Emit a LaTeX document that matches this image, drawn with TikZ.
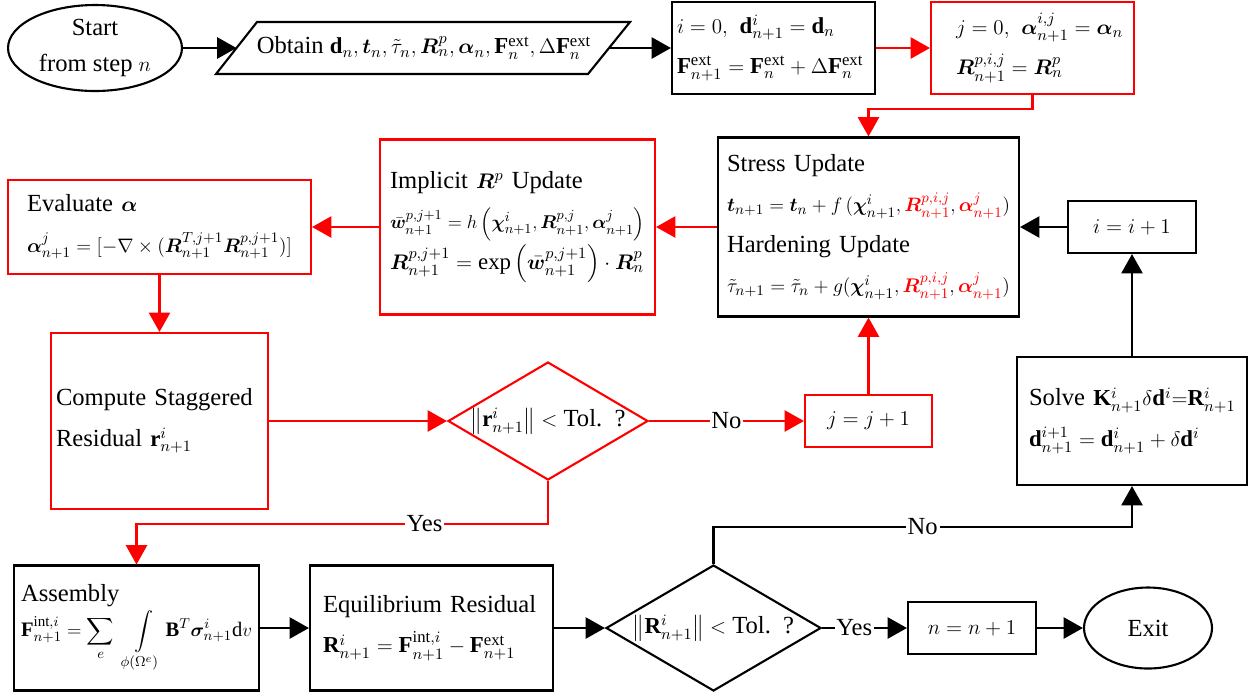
\documentclass[tikz,border=0pt]{standalone}
\usepackage{amsmath}
\usepackage{bm}
\usepackage{graphicx}
\usepackage{fontspec}
\setmainfont{Liberation Serif}
\usetikzlibrary{arrows.meta,shapes.geometric}
\DeclareMathSizes{14}{13}{9.5}{7.5}
\relpenalty=10000
\binoppenalty=10000
\newsavebox\fitbox
\newcommand{\fitto}[2]{\sbox\fitbox{#2}\ifdim\wd\fitbox>#1\relax\resizebox{#1}{!}{\usebox\fitbox}\else\usebox\fitbox\fi}
\tikzset{
  fbase/.style={line width=1.2pt, font=\fontsize{14}{23}\selectfont},
  blkbox/.style={fbase, draw=black, rectangle},
  redbox/.style={fbase, draw=red, rectangle},
  lft/.style={align=left},
  conn/.style={line width=1.3pt, -{Triangle[length=11pt,width=12pt]}},
  rconn/.style={conn, draw=red},
  lbl/.style={fill=white, inner sep=1pt, text=black, font=\fontsize{14}{17}\selectfont},
  ddiam/.style={diamond, line width=1.2pt, inner sep=0pt, minimum width=#1},
  oval/.style={fbase, ellipse, draw, inner sep=0pt, align=center, font=\fontsize{14}{20.5}\selectfont},
}
\newcommand{\bF}{\mathbf{F}}
\newcommand{\ext}{\text{ext}}
\begin{document}
\begin{tikzpicture}[x=0.02cm,y=-0.02cm]
\useasboundingbox (0,0) rectangle (1250,698);

% top row
\node[oval, minimum width=3.48cm, minimum height=1.72cm] (start) at (95,48) {Start\\from step~$n$};
\draw[line width=1.2pt] (257,22) -- (630,22) -- (588,74) -- (216,74) -- cycle;
\node[fbase] (obt) at (424,48) {Obtain~$\mathbf{d}_n,\bm{t}_n,\tilde{\tau}_n,\bm{R}^p_n,\bm{\alpha}_n,\bF^{\ext}_n,\Delta\bF^{\ext}_n$};
\coordinate (pl) at (236.5,48);
\coordinate (pr) at (609,48);

\node[blkbox, lft, minimum width=4.06cm, minimum height=1.84cm, inner xsep=0.1cm, text width=3.86cm] (box1) at (773.5,48)
  {$i=0,\ \mathbf{d}^i_{n+1}=\mathbf{d}_n$\\ $\bF^{\ext}_{n+1}=\bF^{\ext}_n+\Delta\bF^{\ext}_n$};
\node[redbox, lft, minimum width=4.06cm, minimum height=1.84cm, inner xsep=0.5cm, text width=3.06cm] (box2) at (1032.5,48)
  {$j=0,\ \bm{\alpha}^{i,j}_{n+1}=\bm{\alpha}_n$\\ $\bm{R}^{p,i,j}_{n+1}=\bm{R}^p_n$};

% middle row
\node[blkbox, lft, minimum width=6.02cm, minimum height=3.58cm, inner xsep=0.18cm, text width=5.66cm] (stress) at (868.5,227)
  {Stress Update\\
   \fitto{5.66cm}{$\bm{t}_{n+1}=\bm{t}_n+f\,(\bm{\chi}^i_{n+1},\textcolor{red}{\bm{R}^{p,i,j}_{n+1}},\textcolor{red}{\bm{\alpha}^j_{n+1}})$}\\
   Hardening Update\\
   \fitto{5.66cm}{$\tilde{\tau}_{n+1}=\tilde{\tau}_n+g(\bm{\chi}^i_{n+1},\textcolor{red}{\bm{R}^{p,i,j}_{n+1}},\textcolor{red}{\bm{\alpha}^j_{n+1}})$}};
\node[redbox, lft, minimum width=5.5cm, minimum height=3.5cm, inner xsep=0.2cm, text width=5.1cm] (impl) at (517.5,227)
  {Implicit~$\bm{R}^p$~Update\\
   \fitto{5.1cm}{$\bar{\bm{w}}^{p,j+1}_{n+1}=h\left(\bm{\chi}^i_{n+1},\bm{R}^{p,j}_{n+1},\bm{\alpha}^j_{n+1}\right)$}\\
   \fitto{5.1cm}{$\bm{R}^{p,j+1}_{n+1}=\exp\left(\bar{\bm{w}}^{p,j+1}_{n+1}\right)\cdot\bm{R}^p_n$}};
\node[redbox, lft, minimum width=6.06cm, minimum height=1.88cm, inner xsep=0.38cm, text width=5.3cm] (eval) at (159.5,227)
  {Evaluate~$\bm{\alpha}$\\
   \fitto{5.3cm}{$\bm{\alpha}^j_{n+1}=[-\nabla\times(\bm{R}^{T,j+1}_{n+1}\bm{R}^{p,j+1}_{n+1})]$}};
\node[blkbox, minimum width=2.56cm, minimum height=1.04cm] (ibox) at (1132,227) {$i=i+1$};

% third row
\node[redbox, lft, minimum width=4.34cm, minimum height=3.52cm, inner xsep=0.1cm, text width=4.14cm] (comp) at (159.5,421)
  {Compute Staggered\\ Residual~$\mathbf{r}^i_{n+1}$};
\node[ddiam=4cm, draw=red, minimum height=2.36cm,
  label={[fbase]center:{$\left\|\mathbf{r}^i_{n+1}\right\|<$ Tol.\ \ ?}}] (d1) at (548,421) {};
\node[redbox, minimum width=2.54cm, minimum height=1.04cm] (jbox) at (868.5,421) {$j=j+1$};
\node[blkbox, lft, minimum width=4.6cm, minimum height=2.56cm, inner xsep=0.24cm, text width=4.12cm] (solve) at (1132,421)
  {Solve~$\mathbf{K}^i_{n+1}\delta\mathbf{d}^i{=}\mathbf{R}^i_{n+1}$\\
   $\mathbf{d}^{i+1}_{n+1}=\mathbf{d}^i_{n+1}+\delta\mathbf{d}^i$};

% bottom row
\node[blkbox, lft, minimum width=4.9cm, minimum height=2.5cm, inner xsep=0.14cm, text width=4.62cm] (asm) at (136.5,628)
  {Assembly\\[-3pt]
   \fitto{4.62cm}{$\bF^{\text{int},i}_{n+1}=\displaystyle\sum_{e}\ \int\limits_{\phi(\Omega^e)}\mathbf{B}^T\bm{\sigma}^i_{n+1}\mathrm{d}v$}};
\node[blkbox, lft, minimum width=4.86cm, minimum height=2.5cm, inner xsep=0.26cm, text width=4.34cm] (equil) at (431.5,628)
  {Equilibrium Residual\\
   $\mathbf{R}^i_{n+1}=\bF^{\text{int},i}_{n+1}-\bF^{\ext}_{n+1}$};
\node[ddiam=4.3cm, draw=black, minimum height=2.52cm,
  label={[fbase]center:{$\left\|\mathbf{R}^i_{n+1}\right\|<$ Tol.\ \ ?}}] (d2) at (713.5,628) {};
\node[blkbox, minimum width=2.56cm, minimum height=1.04cm] (nbox) at (972,628) {$n=n+1$};
\node[oval, minimum width=2.56cm, minimum height=1.62cm] (exit) at (1148,628) {Exit};

% connectors
\draw[conn] (start.east) -- (pl);
\draw[conn] (pr) -- (box1.west);
\draw[rconn] (box1.east) -- (box2.west);
\draw[rconn] (box2.south) -- ++(0,14) -| (stress.north);
\draw[rconn] (stress.west) -- (impl.east);
\draw[rconn] (impl.west) -- (eval.east);
\draw[rconn] (eval.south) -- (comp.north);
\draw[rconn] (comp.east) -- (d1.west);
\draw[rconn] (d1.east) -- node[lbl]{No} (jbox.west);
\draw[rconn] (jbox.north) -- (stress.south);
\draw[rconn] (d1.south) -- ++(0,43) coordinate (c1) -- node[lbl, pos=0.30]{Yes} (c1 -| asm.north) -- (asm.north);
\draw[conn] (asm.east) -- (equil.west);
\draw[conn] (equil.east) -- (d2.west);
\draw[conn] (d2.east) -- node[lbl, pos=0.38]{Yes} (nbox.west);
\draw[conn] (nbox.east) -- (exit.west);
\draw[conn] (d2.north) -- ++(0,-37) coordinate (c2) -- node[lbl, pos=0.5]{No} (c2 -| solve.south) -- (solve.south);
\draw[conn] (solve.north) -- (ibox.south);
\draw[conn] (ibox.west) -- (stress.east);
\end{tikzpicture}
\end{document}
